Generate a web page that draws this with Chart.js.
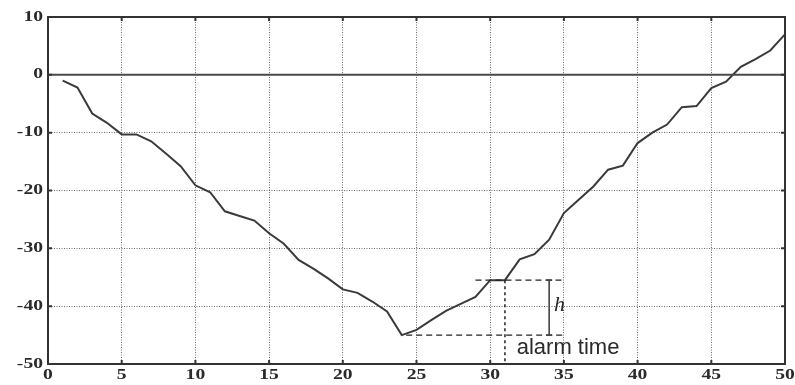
<!DOCTYPE html>
<html>
<head>
<meta charset="utf-8">
<script src="https://cdn.jsdelivr.net/npm/chart.js@4.4.0/dist/chart.umd.min.js"></script>
<style>
  html, body { margin: 0; padding: 0; background: #fff; }
  canvas { display: block; }
</style>
</head>
<body>
<canvas id="c" width="795" height="385"></canvas>
<script>
// Sample index and residual value of the monitored statistic
const sampleIndex = [
  1, 2, 3, 4, 5, 6, 7, 8, 9, 10,
  11, 12, 13, 14, 15, 16, 17, 18, 19, 20,
  21, 22, 23, 24, 25, 26, 27, 28, 29, 30,
  31, 32, 33, 34, 35, 36, 37, 38, 39, 40,
  41, 42, 43, 44, 45, 46, 47, 48, 49, 50
];
const residual = [
  -1.0, -2.2, -6.7, -8.3, -10.3, -10.3, -11.5, -13.6, -15.8, -19.1,
  -20.3, -23.6, -24.4, -25.2, -27.4, -29.2, -32.0, -33.5, -35.2, -37.1,
  -37.7, -39.2, -40.9, -45.0, -44.1, -42.4, -40.8, -39.6, -38.4, -35.5,
  -35.5, -31.9, -31.0, -28.5, -23.9, -21.6, -19.3, -16.4, -15.7, -11.8,
  -10.0, -8.6, -5.6, -5.4, -2.3, -1.2, 1.4, 2.7, 4.2, 7.0
];

// Axis ticks
const xTickValues = [0, 5, 10, 15, 20, 25, 30, 35, 40, 45, 50];
const yTickValues = [10, 0, -10, -20, -30, -40, -50];

// Alarm annotation: minimum, threshold h above it, and the alarm sample
const minIndex = 24;
const minLevel = -45.0;
const alarmLevel = -35.5;
const alarmIndex = 31;
const alarmStart = 29;
const annotationEnd = 35;
const hBarIndex = 34;
const hLabel = 'h';
const alarmLabel = 'alarm time';

const points = sampleIndex.map((x, i) => ({ x: x, y: residual[i] }));
const zeroLine = [{ x: xTickValues[0], y: 0 }, { x: xTickValues[xTickValues.length - 1], y: 0 }];

const frame = {
  id: 'frame',
  afterDraw(chart) {
    const { ctx, chartArea: a, scales: { x, y } } = chart;
    ctx.save();

    // box around the plot
    ctx.strokeStyle = '#333';
    ctx.lineWidth = 2;
    ctx.setLineDash([]);
    ctx.strokeRect(a.left, a.top, a.right - a.left, a.bottom - a.top);

    // inward tick marks on all four sides
    ctx.lineWidth = 2;
    const tl = 4;
    x.ticks.forEach(t => {
      const px = x.getPixelForValue(t.value);
      ctx.beginPath();
      ctx.moveTo(px, a.bottom); ctx.lineTo(px, a.bottom - tl);
      ctx.moveTo(px, a.top); ctx.lineTo(px, a.top + tl);
      ctx.stroke();
    });
    y.ticks.forEach(t => {
      const py = y.getPixelForValue(t.value);
      ctx.beginPath();
      ctx.moveTo(a.left, py); ctx.lineTo(a.left + tl, py);
      ctx.moveTo(a.right, py); ctx.lineTo(a.right - tl, py);
      ctx.stroke();
    });

    // tick labels (wide serif digits)
    ctx.fillStyle = '#2a2a2a';
    ctx.font = 'bold 14px "Liberation Serif", "DejaVu Serif", serif';
    ctx.textBaseline = 'middle';
    const sx = 1.4;
    y.ticks.forEach(t => {
      const py = y.getPixelForValue(t.value);
      ctx.save();
      ctx.translate(a.left - 5, py);
      ctx.scale(sx, 1);
      ctx.textAlign = 'right';
      ctx.fillText(String(t.value), 0, 0);
      ctx.restore();
    });
    x.ticks.forEach(t => {
      const px = x.getPixelForValue(t.value);
      ctx.save();
      ctx.translate(px, a.bottom + 11);
      ctx.scale(sx, 1);
      ctx.textAlign = 'center';
      ctx.fillText(String(t.value), 0, 0);
      ctx.restore();
    });

    // alarm annotation
    ctx.strokeStyle = '#222';
    ctx.lineWidth = 1.3;
    ctx.setLineDash([6, 4]);
    ctx.beginPath();
    ctx.moveTo(x.getPixelForValue(alarmStart), y.getPixelForValue(alarmLevel));
    ctx.lineTo(x.getPixelForValue(annotationEnd), y.getPixelForValue(alarmLevel));
    ctx.moveTo(x.getPixelForValue(minIndex + 0.3), y.getPixelForValue(minLevel));
    ctx.lineTo(x.getPixelForValue(annotationEnd), y.getPixelForValue(minLevel));
    ctx.stroke();

    ctx.setLineDash([3, 3]);
    ctx.lineWidth = 1.5;
    ctx.beginPath();
    ctx.moveTo(x.getPixelForValue(alarmIndex), y.getPixelForValue(alarmLevel));
    ctx.lineTo(x.getPixelForValue(alarmIndex), a.bottom);
    ctx.stroke();

    // h bar
    ctx.setLineDash([]);
    ctx.strokeStyle = '#444';
    ctx.lineWidth = 1.6;
    const hx = x.getPixelForValue(hBarIndex);
    const hy1 = y.getPixelForValue(alarmLevel);
    const hy2 = y.getPixelForValue(minLevel);
    ctx.beginPath();
    ctx.moveTo(hx, hy1); ctx.lineTo(hx, hy2);
    ctx.moveTo(hx - 3, hy1); ctx.lineTo(hx + 3, hy1);
    ctx.moveTo(hx - 3, hy2); ctx.lineTo(hx + 3, hy2);
    ctx.stroke();

    ctx.fillStyle = '#2a2a2a';
    ctx.font = 'italic 22px "Liberation Serif", "DejaVu Serif", serif';
    ctx.textAlign = 'left';
    ctx.textBaseline = 'middle';
    ctx.fillText(hLabel, x.getPixelForValue(hBarIndex + 0.33), y.getPixelForValue((alarmLevel + minLevel) / 2) - 2);

    ctx.font = '22px "Liberation Sans", Arial, sans-serif';
    ctx.fillText(alarmLabel, x.getPixelForValue(alarmIndex + 0.8), y.getPixelForValue(-47.3));

    ctx.restore();
  }
};

new Chart(document.getElementById('c'), {
  type: 'line',
  data: {
    datasets: [
      {
        data: zeroLine,
        borderColor: '#4a4a4a',
        borderWidth: 2,
        pointRadius: 0,
        tension: 0
      },
      {
        data: points,
        borderColor: '#3a3a3a',
        borderWidth: 2,
        pointRadius: 0,
        tension: 0
      }
    ]
  },
  options: {
    responsive: false,
    animation: false,
    devicePixelRatio: 1,
    layout: { padding: { left: 48, right: 10, top: 17, bottom: 21 } },
    plugins: { legend: { display: false }, tooltip: { enabled: false } },
    scales: {
      x: {
        type: 'linear',
        min: 0,
        max: 50,
        afterBuildTicks: s => { s.ticks = xTickValues.map(v => ({ value: v })); },
        afterFit: s => { s.height = 0; },
        ticks: { display: false },
        grid: { color: '#6a6a6a', lineWidth: 1, drawTicks: false },
        border: { display: true, color: '#333', width: 2, dash: [1, 1.5] }
      },
      y: {
        type: 'linear',
        min: -50,
        max: 10,
        afterBuildTicks: s => { s.ticks = yTickValues.map(v => ({ value: v })); },
        afterFit: s => { s.width = 0; },
        ticks: { display: false },
        grid: { color: '#6a6a6a', lineWidth: 1, drawTicks: false },
        border: { display: true, color: '#333', width: 2, dash: [1, 1.5] }
      }
    }
  },
  plugins: [frame]
});
</script>
</body>
</html>
